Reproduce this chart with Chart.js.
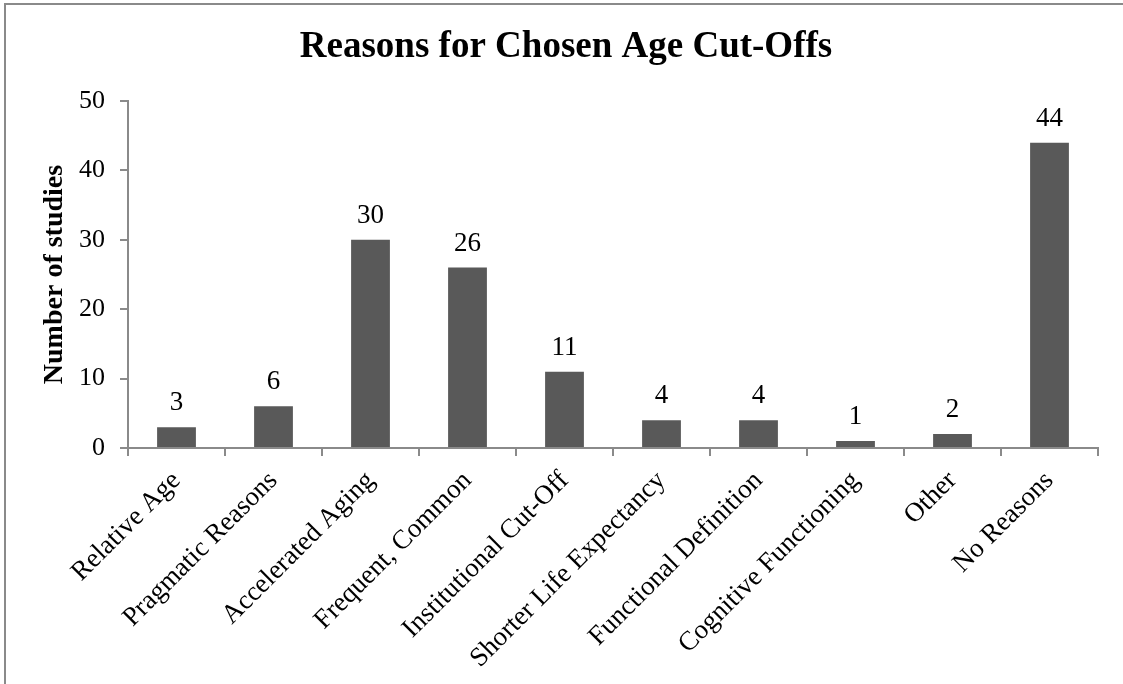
<!DOCTYPE html>
<html>
<head>
<meta charset="utf-8">
<script src="https://cdn.jsdelivr.net/npm/chart.js@4/dist/chart.umd.min.js"></script>
<style>
  html, body { margin: 0; padding: 0; background: #fff; overflow: hidden; width: 1123px; height: 684px; }
  #wrap { position: relative; width: 1123px; height: 684px; }
  canvas { position: absolute; left: 0; top: 0; }
  #frame { position: absolute; left: 4px; top: 3px; width: 1300px; height: 900px; border: 2px solid #8a8a8a; pointer-events: none; }
</style>
</head>
<body>
<div id="wrap">
  <canvas id="c" width="1123" height="684"></canvas>
  <div id="frame"></div>
</div>
<script>
const categories = ["Relative Age", "Pragmatic Reasons", "Accelerated Aging", "Frequent, Common", "Institutional Cut-Off", "Shorter Life Expectancy", "Functional Definition", "Cognitive Functioning", "Other", "No Reasons"];
const studies = [3, 6, 30, 26, 11, 4, 4, 1, 2, 44];
const yTicks = [0, 10, 20, 30, 40, 50];
const titleText = "Reasons for Chosen Age Cut-Offs";
const yTitle = "Number of studies";

const SERIF = "'Liberation Serif', 'Times New Roman', serif";
const AXIS = "#8a8a8a";

const valueLabels = {
  id: 'valueLabels',
  afterDatasetsDraw(chart) {
    const ctx = chart.ctx;
    const meta = chart.getDatasetMeta(0);
    ctx.save();
    ctx.font = "27px " + SERIF;
    ctx.fillStyle = "#000";
    ctx.textAlign = "center";
    ctx.textBaseline = "alphabetic";
    meta.data.forEach((bar, i) => {
      ctx.fillText(String(studies[i]), bar.x, bar.y - 17);
    });
    ctx.restore();
  }
};

new Chart(document.getElementById('c'), {
  type: 'bar',
  data: {
    labels: categories,
    datasets: [{
      data: studies,
      backgroundColor: "#595959",
      borderWidth: 0,
      barPercentage: 0.4,
      categoryPercentage: 1.0
    }]
  },
  options: {
    responsive: false,
    animation: false,
    layout: { padding: { top: 0, left: 34, right: 25, bottom: 0 } },
    plugins: {
      legend: { display: false },
      tooltip: { enabled: false },
      title: {
        display: true,
        text: titleText,
        color: "#000",
        font: { family: SERIF, size: 37, weight: 'bold', lineHeight: 1.2 },
        padding: { top: 25, bottom: 31.6 }
      }
    },
    scales: {
      x: {
        grid: { display: true, drawOnChartArea: false, offset: true, color: AXIS, lineWidth: 2, tickLength: 8, tickWidth: 2, tickColor: AXIS },
        border: { display: true, color: AXIS, width: 2 },
        ticks: {
          color: "#000",
          font: { family: SERIF, size: 27 },
          minRotation: 45, maxRotation: 45,
          autoSkip: false,
          padding: 9
        },
        afterFit(scale) { scale.height = 236; }
      },
      y: {
        min: 0, max: 50,
        afterBuildTicks(scale) { scale.ticks = yTicks.map(v => ({ value: v })); },
        grid: { display: true, drawOnChartArea: false, color: AXIS, lineWidth: 2, tickLength: 8, tickWidth: 2, tickColor: AXIS },
        border: { display: true, color: AXIS, width: 2 },
        ticks: {
          color: "#000",
          font: { family: SERIF, size: 26 },
          padding: 15
        },
        title: {
          display: true,
          text: yTitle,
          color: "#000",
          font: { family: SERIF, size: 28, weight: 'bold', lineHeight: 1.2 },
          padding: { top: 4, bottom: 0 }
        },
        afterFit(scale) { scale.width = 94; }
      }
    }
  },
  plugins: [valueLabels]
});
</script>
</body>
</html>
